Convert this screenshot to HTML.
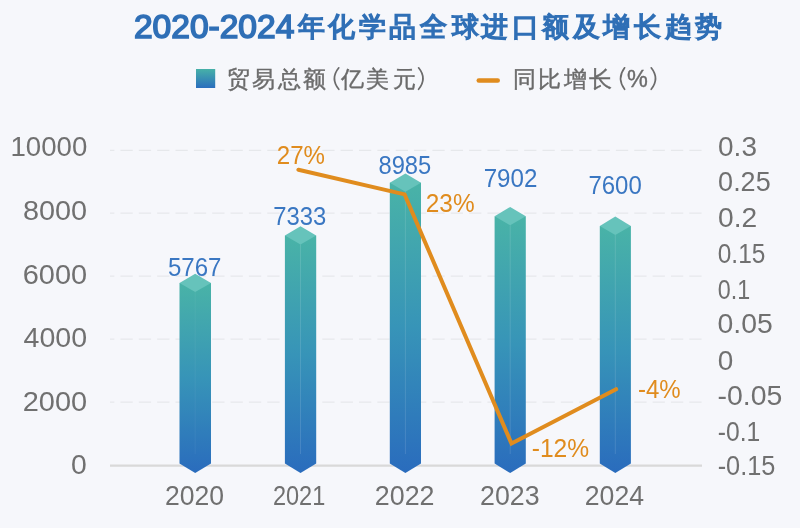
<!DOCTYPE html>
<html><head><meta charset="utf-8">
<style>
html,body{margin:0;padding:0;background:#f6f7fb;}
body{width:800px;height:528px;overflow:hidden;font-family:"Liberation Sans",sans-serif;}
svg{display:block;will-change:transform;}
text{font-family:"Liberation Sans",sans-serif;}
.ax{font-size:27px;fill:#707070;}
.bl{font-size:25.4px;fill:#3a77c2;}
.pl{font-size:25.4px;fill:#e08c1e;}
.gd{stroke:#e3e4e8;stroke-width:1;stroke-dasharray:12.3 6.05;stroke-dashoffset:7.9;}
.tt{font-size:32.6px;fill:#2f6fb6;stroke:#2f6fb6;stroke-width:1.6px;}
.tc{font-size:27.4px;font-weight:500;fill:#2f6fb6;stroke:#2f6fb6;stroke-width:1.5px;}
.lg{font-size:23.4px;fill:#6b6b6b;stroke:#6b6b6b;stroke-width:0.4px;}
.pp{fill:none;stroke:#6b6b6b;stroke-width:1.7;stroke-linecap:round;}
</style></head>
<body>
<svg width="800" height="528" viewBox="0 0 800 528">
<defs>
<linearGradient id="gb" x1="0" y1="0" x2="0" y2="1">
<stop offset="0" stop-color="#49b3a7"/><stop offset="0.5" stop-color="#3794b8"/><stop offset="1" stop-color="#2a6cbd"/></linearGradient>
<linearGradient id="gb2" x1="0" y1="0" x2="0" y2="1">
<stop offset="0" stop-color="#48b0a8"/><stop offset="1" stop-color="#2a6dbe"/></linearGradient>
<linearGradient id="gsq" x1="0" y1="0" x2="0" y2="1">
<stop offset="0" stop-color="#47b1a8"/><stop offset="1" stop-color="#2a6ebe"/></linearGradient>
</defs>
<text transform="translate(135.60,38.30) scale(1.0292,1)" x="-1.63" y="0" class="tt" style="font-size:32.6px">2020-2024</text>
<text x="311.5" y="36.4" text-anchor="middle" class="tc">年</text>
<text x="341.6" y="36.4" text-anchor="middle" class="tc">化</text>
<text x="372" y="36.4" text-anchor="middle" class="tc">学</text>
<text x="402.9" y="36.4" text-anchor="middle" class="tc">品</text>
<text x="433.8" y="36.4" text-anchor="middle" class="tc">全</text>
<text x="465" y="36.4" text-anchor="middle" class="tc">球</text>
<text x="494.8" y="36.4" text-anchor="middle" class="tc">进</text>
<text x="525.3" y="36.4" text-anchor="middle" class="tc">口</text>
<text x="555.8" y="36.4" text-anchor="middle" class="tc">额</text>
<text x="586.7" y="36.4" text-anchor="middle" class="tc">及</text>
<text x="616.6" y="36.4" text-anchor="middle" class="tc">增</text>
<text x="647.9" y="36.4" text-anchor="middle" class="tc">长</text>
<text x="678.8" y="36.4" text-anchor="middle" class="tc">趋</text>
<text x="708.8" y="36.4" text-anchor="middle" class="tc">势</text>
<rect x="196" y="69" width="19.2" height="19" fill="url(#gsq)"/>
<text x="238.6" y="87.2" text-anchor="middle" class="lg">贸</text>
<text x="263.2" y="87.2" text-anchor="middle" class="lg">易</text>
<text x="289.6" y="87.2" text-anchor="middle" class="lg">总</text>
<text x="314.5" y="87.2" text-anchor="middle" class="lg">额</text>
<text x="352.5" y="87.2" text-anchor="middle" class="lg">亿</text>
<text x="377.7" y="87.2" text-anchor="middle" class="lg">美</text>
<text x="404.0" y="87.2" text-anchor="middle" class="lg">元</text>
<path d="M338.8 67.8Q330 78.6 338.8 89.3" class="pp"/>
<path d="M418.6 67.8Q427.4 78.6 418.6 89.3" class="pp"/>
<line x1="478.8" y1="80.5" x2="497.7" y2="80.5" stroke="#e08c1e" stroke-width="4.6" stroke-linecap="round"/>
<text x="524.05" y="87.2" text-anchor="middle" class="lg">同</text>
<text x="549.25" y="87.2" text-anchor="middle" class="lg">比</text>
<text x="575.7" y="87.2" text-anchor="middle" class="lg">增</text>
<text x="600.6" y="87.2" text-anchor="middle" class="lg">长</text>
<path d="M624.6 67.8Q616.6 78.6 624.6 89.3" class="pp"/>
<path d="M651.2 67.8Q659.8 78.6 651.2 89.3" class="pp"/>
<text x="637.4" y="86.5" text-anchor="middle" class="lg">%</text>
<line x1="110" y1="150.3" x2="702" y2="150.3" class="gd"/>
<line x1="110" y1="213.1" x2="702" y2="213.1" class="gd"/>
<line x1="110" y1="276.1" x2="702" y2="276.1" class="gd"/>
<line x1="110" y1="339.1" x2="702" y2="339.1" class="gd"/>
<line x1="110" y1="402.1" x2="702" y2="402.1" class="gd"/>
<line x1="110" y1="465.7" x2="702" y2="465.7" stroke="#d9d9d9" stroke-width="2.3"/>
<path d="M179.5 283.0L211.0 283.0L211.0 463.6L195.2 473.0L179.5 463.6Z" fill="url(#gb)"/>
<path d="M179.5 283.0L195.2 273.7L211.0 283.0L195.2 292.0Z" fill="#66c3bb"/>
<line x1="195.2" y1="292.0" x2="195.2" y2="454" stroke="#ffffff" stroke-opacity="0.05" stroke-width="1"/>
<path d="M284.9 235.5L316.2 235.5L316.2 463.6L300.5 473.0L284.9 463.6Z" fill="url(#gb)"/>
<path d="M284.9 235.5L300.5 226.2L316.2 235.5L300.5 244.5Z" fill="#66c3bb"/>
<line x1="300.5" y1="244.5" x2="300.5" y2="454" stroke="#ffffff" stroke-opacity="0.12" stroke-width="1"/>
<path d="M389.8 182.7L421.0 182.7L421.0 463.6L405.4 473.0L389.8 463.6Z" fill="url(#gb)"/>
<path d="M389.8 182.7L405.4 173.4L421.0 182.7L405.4 191.7Z" fill="#66c3bb"/>
<line x1="405.4" y1="191.7" x2="405.4" y2="454" stroke="#ffffff" stroke-opacity="0.12" stroke-width="1"/>
<path d="M494.6 216.3L525.8 216.3L525.8 463.6L510.2 473.0L494.6 463.6Z" fill="url(#gb)"/>
<path d="M494.6 216.3L510.2 207.0L525.8 216.3L510.2 225.3Z" fill="#66c3bb"/>
<line x1="510.2" y1="225.3" x2="510.2" y2="454" stroke="#ffffff" stroke-opacity="0.12" stroke-width="1"/>
<path d="M599.8 225.9L630.9 225.9L630.9 463.6L615.3 473.0L599.8 463.6Z" fill="url(#gb)"/>
<path d="M599.8 225.9L615.3 216.6L630.9 225.9L615.3 234.9Z" fill="#66c3bb"/>
<line x1="615.3" y1="234.9" x2="615.3" y2="454" stroke="#ffffff" stroke-opacity="0.12" stroke-width="1"/>
<polyline points="298.4,169.8 404.6,194.4 511.5,443.6 616.1,389.2" fill="none" stroke="#e08c1e" stroke-width="4" stroke-linecap="round" stroke-linejoin="miter"/>
<text transform="translate(168.90,276.40) scale(0.9482,1)" x="-1.02" y="0" class="bl" style="font-size:25.4px">5767</text>
<text transform="translate(274.40,225.00) scale(0.9390,1)" x="-1.27" y="0" class="bl" style="font-size:25.4px">7333</text>
<text transform="translate(379.40,173.70) scale(0.9346,1)" x="-1.02" y="0" class="bl" style="font-size:25.4px">8985</text>
<text transform="translate(484.90,187.30) scale(0.9508,1)" x="-1.27" y="0" class="bl" style="font-size:25.4px">7902</text>
<text transform="translate(589.60,194.30) scale(0.9445,1)" x="-1.27" y="0" class="bl" style="font-size:25.4px">7600</text>
<text transform="translate(278.00,164.30) scale(0.9494,1)" x="-1.27" y="0" class="pl" style="font-size:25.4px">27%</text>
<text transform="translate(427.00,212.30) scale(0.9596,1)" x="-1.27" y="0" class="pl" style="font-size:25.4px">23%</text>
<text transform="translate(532.70,457.10) scale(0.9686,1)" x="-1.02" y="0" class="pl" style="font-size:25.4px">-12%</text>
<text transform="translate(638.95,398.40) scale(0.9460,1)" x="-1.02" y="0" class="pl" style="font-size:25.4px">-4%</text>
<text transform="translate(12.60,156.30) scale(1.0248,1)" x="-2.16" y="0" class="ax" style="font-size:27px">10000</text>
<text transform="translate(24.10,219.90) scale(1.0678,1)" x="-1.08" y="0" class="ax" style="font-size:27px">8000</text>
<text transform="translate(24.10,283.90) scale(1.0729,1)" x="-1.35" y="0" class="ax" style="font-size:27px">6000</text>
<text transform="translate(24.10,347.00) scale(1.0580,1)" x="-0.54" y="0" class="ax" style="font-size:27px">4000</text>
<text transform="translate(24.10,411.10) scale(1.0729,1)" x="-1.35" y="0" class="ax" style="font-size:27px">2000</text>
<text transform="translate(72.20,474.10) scale(1.0494,1)" x="-1.08" y="0" class="ax" style="font-size:27px">0</text>
<text transform="translate(719.20,156.00) scale(1.0348,1)" x="-1.08" y="0" class="ax" style="font-size:27px">0.3</text>
<text transform="translate(719.20,191.30) scale(0.9996,1)" x="-1.08" y="0" class="ax" style="font-size:27px">0.25</text>
<text transform="translate(719.20,227.10) scale(1.0427,1)" x="-1.08" y="0" class="ax" style="font-size:27px">0.2</text>
<text transform="translate(718.70,262.60) scale(0.9060,1)" x="-1.08" y="0" class="ax" style="font-size:27px">0.15</text>
<text transform="translate(718.70,298.60) scale(0.8632,1)" x="-1.08" y="0" class="ax" style="font-size:27px">0.1</text>
<text transform="translate(718.70,333.40) scale(1.0514,1)" x="-1.08" y="0" class="ax" style="font-size:27px">0.05</text>
<text transform="translate(718.80,369.50) scale(1.0340,1)" x="-1.08" y="0" class="ax" style="font-size:27px">0</text>
<text transform="translate(718.70,405.10) scale(1.0539,1)" x="-1.08" y="0" class="ax" style="font-size:27px">-0.05</text>
<text transform="translate(718.70,440.50) scale(0.9134,1)" x="-1.08" y="0" class="ax" style="font-size:27px">-0.1</text>
<text transform="translate(718.70,474.70) scale(0.9377,1)" x="-1.08" y="0" class="ax" style="font-size:27px">-0.15</text>
<text transform="translate(166.20,505.20) scale(0.9663,1)" x="-1.38" y="0" class="ax" style="font-size:27.5px">2020</text>
<text transform="translate(274.10,505.20) scale(0.8559,1)" x="-1.38" y="0" class="ax" style="font-size:27.5px">2021</text>
<text transform="translate(376.10,505.20) scale(0.9777,1)" x="-1.38" y="0" class="ax" style="font-size:27.5px">2022</text>
<text transform="translate(481.45,505.20) scale(0.9723,1)" x="-1.38" y="0" class="ax" style="font-size:27.5px">2023</text>
<text transform="translate(586.10,505.20) scale(0.9686,1)" x="-1.38" y="0" class="ax" style="font-size:27.5px">2024</text>
</svg>
</body></html>
